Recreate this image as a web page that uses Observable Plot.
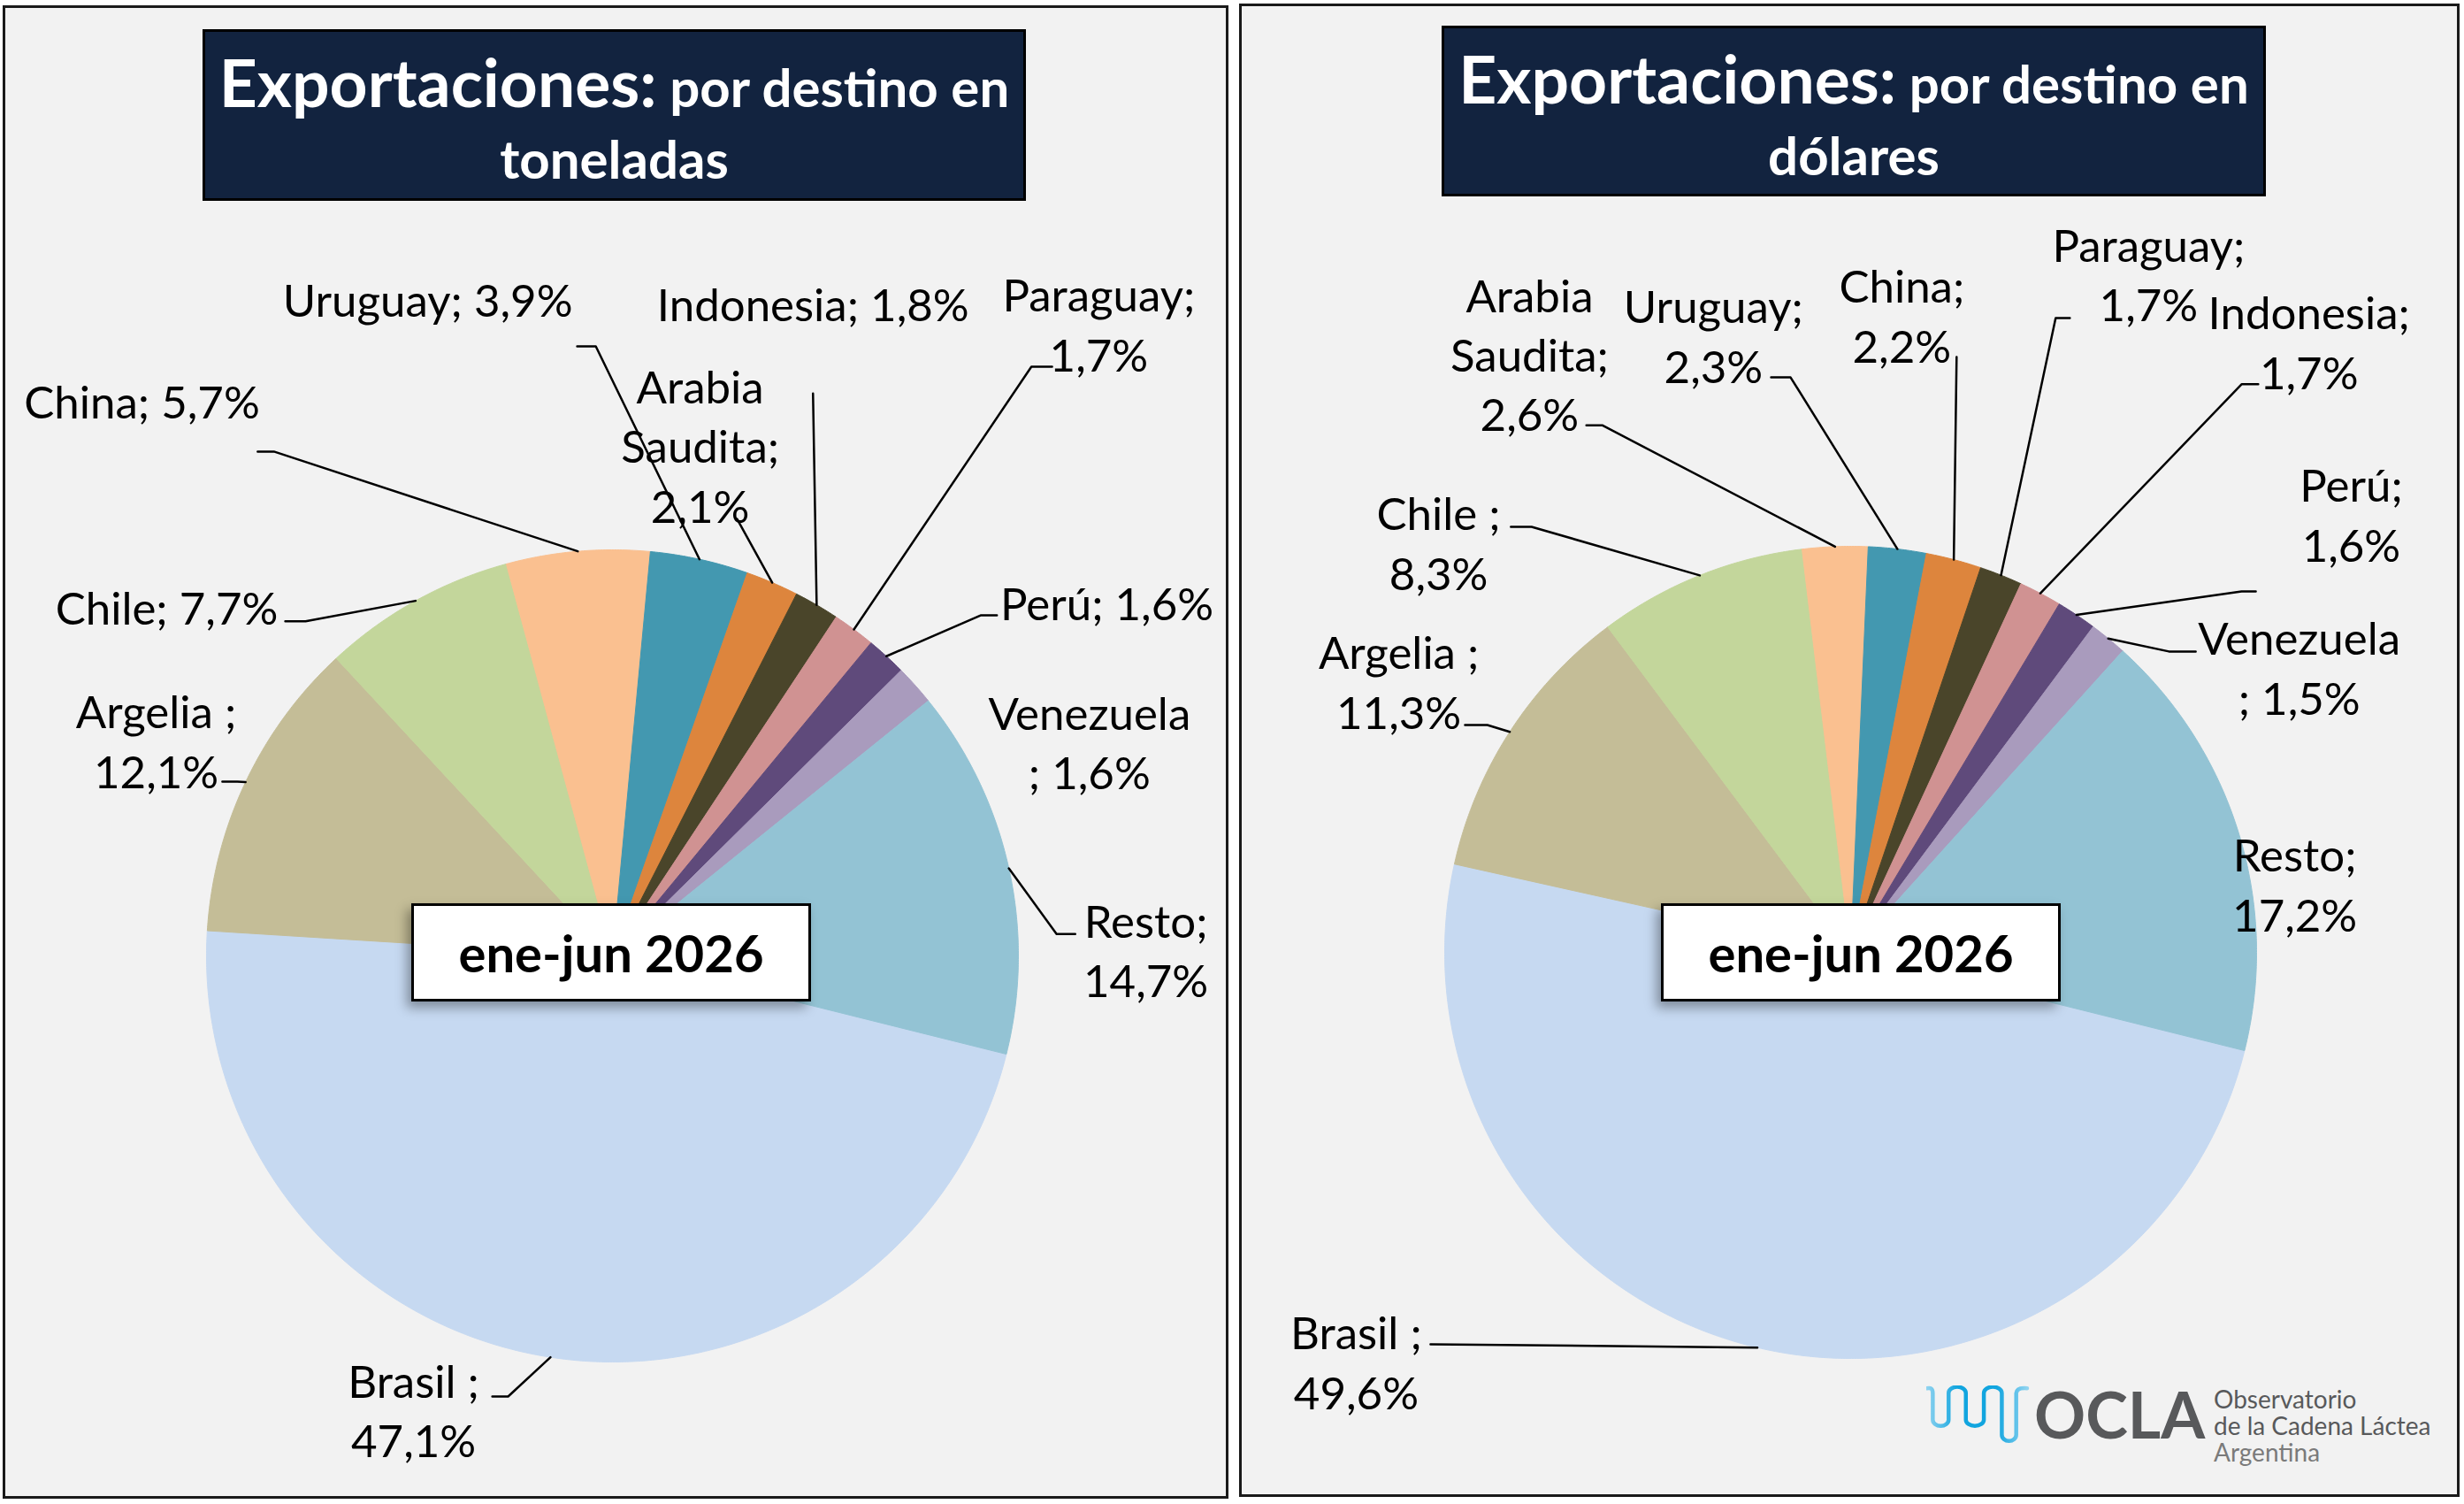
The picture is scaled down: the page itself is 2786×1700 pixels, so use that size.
<!DOCTYPE html>
<html>
<head>
<meta charset="utf-8">
<script src="https://cdn.jsdelivr.net/npm/d3@7"></script>
<script src="https://cdn.jsdelivr.net/npm/@observablehq/plot@0.6"></script>
<style>
  html, body { margin: 0; padding: 0; background: #ffffff; }
  #root { position: relative; width: 2786px; height: 1700px; overflow: hidden; font-family: Lato, "Open Sans", sans-serif; }
  .panel { position: absolute; box-sizing: border-box; border: 3px solid #1a1a1a; background: #f2f2f2; }
  .plotwrap { position: absolute; }
  .plotwrap svg { display: block; overflow: visible; }
  .title { position: absolute; box-sizing: border-box; background: #12233f; border: 3px solid #000; color: #fff; font-weight: 700; }
  .title .l1, .title .l2 { position: absolute; left: 0; right: 0; text-align: center; white-space: nowrap; line-height: 1.2; }
  .title .big { font-size: 75px; }
  .title .small { font-size: 60px; }
  .center { position: absolute; box-sizing: border-box; background: #fff; border: 3px solid #000;
            box-shadow: -5px 7px 12px rgba(0,0,0,0.35); display: flex; align-items: center; justify-content: center;
            font-weight: 700; font-size: 58px; color: #000; }
</style>
</head>
<body>
<div id="root"></div>
<script>
// ---------------- DATA ----------------
const tonCategories = ["Brasil", "Argelia", "Chile", "China", "Uruguay", "Arabia Saudita", "Indonesia", "Paraguay", "Perú", "Venezuela", "Resto"];
const tonShares     = [47.1, 12.1, 7.7, 5.7, 3.9, 2.1, 1.8, 1.7, 1.6, 1.6, 14.7];

const usdCategories = ["Brasil", "Argelia", "Chile", "Arabia Saudita", "Uruguay", "China", "Paraguay", "Indonesia", "Perú", "Venezuela", "Resto"];
const usdShares     = [49.6, 11.3, 8.3, 2.6, 2.3, 2.2, 1.7, 1.7, 1.6, 1.5, 17.2];

const periodLabel = "ene-jun 2026";
const titleMain = "Exportaciones:";
const titleRest = "por destino en";
const tonUnit = "toneladas";
const usdUnit = "dólares";

// label text templates ({n} = category, {v} = value)
const tonTemplates = ["{n} ;\n{v}", "{n} ;\n{v}", "{n}; {v}", "{n}; {v}", "{n}; {v}", "{n};\n{v}", "{n}; {v}", "{n};\n{v}", "{n}; {v}", "{n}\n; {v}", "{n};\n{v}"];
const usdTemplates = ["{n} ;\n{v}", "{n} ;\n{v}", "{n} ;\n{v}", "{n};\n{v}", "{n};\n{v}", "{n};\n{v}", "{n};\n{v}", "{n};\n{v}", "{n};\n{v}", "{n}\n; {v}", "{n};\n{v}"];

// ---------------- STYLE / LAYOUT ----------------
const sliceColors = ["#c6d9f1", "#c4bd97", "#c3d69b", "#fac090", "#4398b0", "#dd853d", "#4a452a", "#d09292", "#5f4a7b", "#a99bbd", "#93c3d4"];
const startAngle = 104; // degrees clockwise from 12 o'clock

// label placement in pie-radius units: [x, y, leader points near label]
const tonLabelLayout = [
  [-0.490, -1.115, [[-0.296, -1.085], [-0.257, -1.085]]],
  [-1.124,  0.534, [[-0.961,  0.429], [-0.924,  0.429]]],
  [-1.098,  0.863, [[-0.806,  0.824], [-0.756,  0.824]]],
  [-1.159,  1.370, [[-0.874,  1.242], [-0.834,  1.242]]],
  [-0.455,  1.621, [[-0.087,  1.501], [-0.041,  1.501]]],
  [ 0.216,  1.261, [[ 0.307,  1.076]]],
  [ 0.494,  1.610, [[ 0.494,  1.385]]],
  [ 1.198,  1.560, [[ 1.083,  1.451], [ 1.032,  1.451]]],
  [ 1.218,  0.874, [[ 0.947,  0.839], [ 0.908,  0.839]]],
  [ 1.175,  0.530, []],
  [ 1.314,  0.019, [[ 1.140,  0.054], [ 1.094,  0.054]]]
];
const usdLabelLayout = [
  [-1.218, -1.004, [[-1.035, -0.965]]],
  [-1.113,  0.671, [[-0.950,  0.560], [-0.895,  0.560]]],
  [-1.015,  1.013, [[-0.837,  1.048], [-0.786,  1.048]]],
  [-0.791,  1.477, [[-0.651,  1.298], [-0.612,  1.298]]],
  [-0.338,  1.523, [[-0.196,  1.416], [-0.148,  1.416]]],
  [ 0.126,  1.573, [[ 0.261,  1.466]]],
  [ 0.734,  1.675, [[ 0.540,  1.562], [ 0.505,  1.562]]],
  [ 1.129,  1.508, [[ 1.004,  1.399], [ 0.963,  1.399]]],
  [ 1.233,  1.083, [[ 0.998,  0.889], [ 0.963,  0.889]]],
  [ 1.105,  0.706, [[ 0.850,  0.741], [ 0.784,  0.741]]],
  [ 1.094,  0.172, []]
];

const charts = [
  { categories: tonCategories, shares: tonShares, templates: tonTemplates, layout: tonLabelLayout, unit: tonUnit,
    panel: {x: 3, y: 6, w: 1386, h: 1688}, cx: 692, cy: 1080, R: 459,
    title: {x: 229, y: 33, w: 931, h: 194}, box: {x: 465, y: 1021, w: 452, h: 111} },
  { categories: usdCategories, shares: usdShares, templates: usdTemplates, layout: usdLabelLayout, unit: usdUnit,
    panel: {x: 1401, y: 4, w: 1380, h: 1688}, cx: 2092, cy: 1076, R: 459,
    title: {x: 1630, y: 29, w: 932, h: 193}, box: {x: 1878, y: 1021, w: 452, h: 111} }
];

const fmt = v => v.toFixed(1).replace(".", ",") + "%";
const root = document.getElementById("root");

function el(tag, cls, style, html) {
  const e = document.createElement(tag);
  if (cls) e.className = cls;
  Object.assign(e.style, style || {});
  if (html != null) e.innerHTML = html;
  return e;
}

charts.forEach(ch => {
  const {panel, cx, cy, R} = ch;
  root.appendChild(el("div", "panel", {left: panel.x + "px", top: panel.y + "px", width: panel.w + "px", height: panel.h + "px"}));

  // slices
  const total = d3.sum(ch.shares);
  const slicePts = [];
  const mids = [];
  let acc = 0;
  ch.categories.forEach((name, i) => {
    const a0 = startAngle + acc / total * 360;
    acc += ch.shares[i];
    const a1 = startAngle + acc / total * 360;
    mids.push((a0 + a1) / 2);
    const n = Math.max(2, Math.ceil((a1 - a0) / 0.4));
    slicePts.push({name, x: 0, y: 0});
    for (let k = 0; k <= n; k++) {
      const a = (a0 + (a1 - a0) * k / n) * Math.PI / 180;
      slicePts.push({name, x: Math.sin(a), y: Math.cos(a)});
    }
    slicePts.push({name, x: 0, y: 0});
  });

  // labels
  const labels = ch.categories.map((name, i) => ({
    x: ch.layout[i][0], y: ch.layout[i][1],
    text: ch.templates[i].replace("{n}", name.replace(" ", "\n")).replace("{v}", fmt(ch.shares[i]))
  }));
  const leaders = [];
  ch.categories.forEach((name, i) => {
    const pts = ch.layout[i][2];
    if (!pts.length) return;
    pts.forEach(p => leaders.push({id: name, x: p[0], y: p[1]}));
    const a = mids[i] * Math.PI / 180;
    leaders.push({id: name, x: Math.sin(a), y: Math.cos(a)});
  });

  const plot = Plot.plot({
    width: panel.w, height: panel.h,
    margin: 0,
    x: {domain: [(panel.x - cx) / R, (panel.x + panel.w - cx) / R], axis: null},
    y: {domain: [(cy - panel.y - panel.h) / R, (cy - panel.y) / R], axis: null},
    color: {domain: ch.categories, range: sliceColors},
    style: {background: "transparent", overflow: "visible", fontFamily: "Lato, sans-serif"},
    marks: [
      Plot.line(slicePts, {x: "x", y: "y", z: "name", fill: "name", stroke: "name", strokeWidth: 1, curve: "linear"}),
      Plot.line(leaders, {x: "x", y: "y", z: "id", stroke: "#000", strokeWidth: 2.5, curve: "linear"}),
      Plot.text(labels, {x: "x", y: "y", text: "text", fontSize: 51, fontFamily: "Lato, sans-serif",
                         fill: "#000", textAnchor: "middle", lineAnchor: "middle", lineHeight: 1.32})
    ]
  });
  const wrap = el("div", "plotwrap", {left: panel.x + "px", top: panel.y + "px", width: panel.w + "px", height: panel.h + "px"});
  wrap.appendChild(plot);
  root.appendChild(wrap);

  // title box
  const t = ch.title;
  const tb = el("div", "title", {left: t.x + "px", top: t.y + "px", width: t.w + "px", height: t.h + "px"});
  tb.appendChild(el("div", "l1", {top: "11px"}, `<span class="big">${titleMain}</span><span class="small"> ${titleRest}</span>`));
  tb.appendChild(el("div", "l2", {top: "107px"}, `<span class="small">${ch.unit}</span>`));
  root.appendChild(tb);

  // period box
  const b = ch.box;
  root.appendChild(el("div", "center", {left: b.x + "px", top: b.y + "px", width: b.w + "px", height: b.h + "px"}, periodLabel));
});

// logo
root.insertAdjacentHTML("beforeend", `
<svg style="position:absolute;left:0;top:0" width="2786" height="1700" viewBox="0 0 2786 1700">
  <defs>
    <linearGradient id="wg" x1="0" x2="1" y1="0" y2="0">
      <stop offset="0" stop-color="#8fd3f0"/>
      <stop offset="0.3" stop-color="#12a5df"/>
      <stop offset="0.7" stop-color="#12a5df"/>
      <stop offset="1" stop-color="#8fd3f0"/>
    </linearGradient>
  </defs>
  <svg x="2178" y="1566" width="118" height="66" viewBox="20 45 290 205" preserveAspectRatio="none">
    <path d="M 22 55 Q 38 50 38 72 L 38 165 A 22 22 0 0 0 82 165 L 82 72 A 24 22 0 0 1 130 72 L 130 165 A 25 22 0 0 0 180 165 L 180 72 A 25 22 0 0 1 230 72 L 230 218 A 20 22 0 0 0 270 218 L 270 72 Q 272 52 300 55"
      fill="none" stroke="url(#wg)" stroke-width="4.5" vector-effect="non-scaling-stroke" stroke-linecap="round"/>
  </svg>
  <text x="2300" y="1626" font-family="Lato, sans-serif" font-weight="700" font-size="72" fill="#58595b">OCLA</text>
  <text x="2503" y="1592" font-family="Lato, sans-serif" font-size="28" fill="#58595b">Observatorio</text>
  <text x="2503" y="1622" font-family="Lato, sans-serif" font-size="28" fill="#58595b">de la Cadena Láctea</text>
  <text x="2503" y="1652" font-family="Lato, sans-serif" font-size="28" fill="#7a7a7a">Argentina</text>
</svg>`);
</script>
</body>
</html>
